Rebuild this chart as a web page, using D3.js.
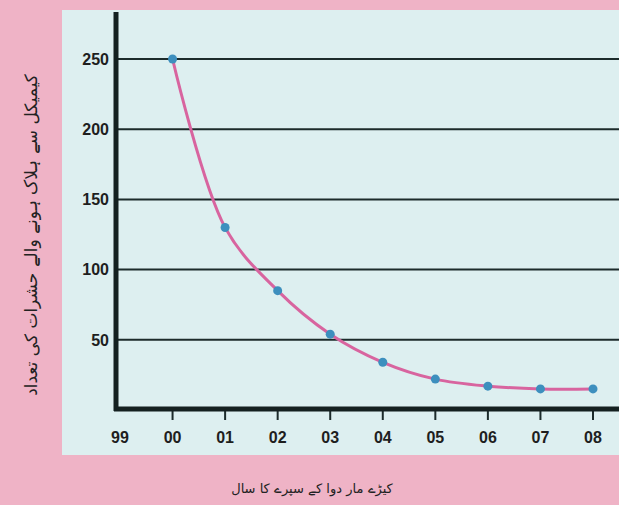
<!DOCTYPE html>
<html>
<head>
<meta charset="utf-8">
<script src="https://cdn.jsdelivr.net/npm/d3@7"></script>
<style>
  html, body { margin: 0; padding: 0; background: #efb3c6; }
  svg { display: block; }
</style>
</head>
<body>
<svg width="619" height="505"></svg>
<script>
// years of spraying and insects counted
var years = ['99', '00', '01', '02', '03', '04', '05', '06', '07', '08'];
var pointYears = ['00', '01', '02', '03', '04', '05', '06', '07', '08'];
var counts = [250, 130, 85, 54, 34, 22, 17, 15, 15];
var yTicks = [50, 100, 150, 200, 250];

var yTitle = 'کیمیکل سے ہلاک ہونے والے حشرات کی تعداد';
var xTitle = 'کیڑے مار دوا کے سپرے کا سال';

var svg = d3.select('svg');

// light panel behind the chart
svg.append('rect')
   .attr('x', 62)
   .attr('y', 10)
   .attr('width', 557)
   .attr('height', 445)
   .style('fill', '#ddeff0');

var x = d3.scalePoint()
  .domain(years)
  .range([120, 593]);

var y = d3.scaleLinear()
  .domain([0, 250])
  .range([410, 59]);

// horizontal grid
svg.append('g')
   .selectAll('line')
   .data(yTicks)
   .enter().append('line')
   .attr('x1', 115)
   .attr('x2', 619)
   .attr('y1', function (d) { return y(d); })
   .attr('y2', function (d) { return y(d); })
   .style('stroke', '#1c2b2b')
   .style('stroke-width', 2);

// y tick labels
svg.append('g')
   .selectAll('text')
   .data(yTicks)
   .enter().append('text')
   .attr('x', 109)
   .attr('y', function (d) { return y(d); })
   .attr('dy', '0.36em')
   .attr('text-anchor', 'end')
   .attr('font-family', '"Liberation Sans", Arial, sans-serif')
   .attr('font-weight', 'bold')
   .attr('font-size', '16px')
   .attr('fill', '#1e1e1e')
   .text(function (d) { return d; });

// x ticks (none for 99, it sits on the axis)
var xt = svg.append('g');
xt.selectAll('line')
  .data(years.slice(1))
  .enter().append('line')
  .attr('x1', function (d) { return x(d); })
  .attr('x2', function (d) { return x(d); })
  .attr('y1', 410)
  .attr('y2', 420)
  .style('stroke', '#1c2b2b')
  .style('stroke-width', 2);

xt.selectAll('text')
  .data(years)
  .enter().append('text')
  .attr('x', function (d) { return x(d); })
  .attr('y', 443)
  .attr('text-anchor', 'middle')
  .attr('font-family', '"Liberation Sans", Arial, sans-serif')
  .attr('font-weight', 'bold')
  .attr('font-size', '16px')
  .attr('fill', '#1e1e1e')
  .text(function (d) { return d; });

// axes
svg.append('line')
   .attr('x1', 116).attr('x2', 116)
   .attr('y1', 12).attr('y2', 411)
   .style('stroke', '#142020')
   .style('stroke-width', 5);
svg.append('line')
   .attr('x1', 114).attr('x2', 619)
   .attr('y1', 409).attr('y2', 409)
   .style('stroke', '#142020')
   .style('stroke-width', 5);

// curve
var pts = pointYears.map(function (d, i) { return [x(d), y(counts[i])]; });
svg.append('path')
   .attr('d', d3.line().curve(d3.curveCatmullRom.alpha(0.5))(pts))
   .style('fill', 'none')
   .style('stroke', '#d8649f')
   .style('stroke-width', 3);

svg.append('g')
   .selectAll('circle')
   .data(pts)
   .enter().append('circle')
   .attr('cx', function (d) { return d[0]; })
   .attr('cy', function (d) { return d[1]; })
   .attr('r', 4.5)
   .style('fill', '#3d8fbe');

// titles
svg.append('text')
   .attr('transform', 'translate(37,235) rotate(-90)')
   .attr('text-anchor', 'middle')
   .attr('font-family', '"DejaVu Sans", sans-serif')
   .attr('font-size', '17px')
   .attr('fill', '#222')
   .attr('direction', 'rtl')
   .text(yTitle);

svg.append('text')
   .attr('x', 312)
   .attr('y', 493)
   .attr('text-anchor', 'middle')
   .attr('font-family', '"DejaVu Sans", sans-serif')
   .attr('font-size', '13px')
   .attr('fill', '#222')
   .attr('direction', 'rtl')
   .text(xTitle);
</script>
</body>
</html>
